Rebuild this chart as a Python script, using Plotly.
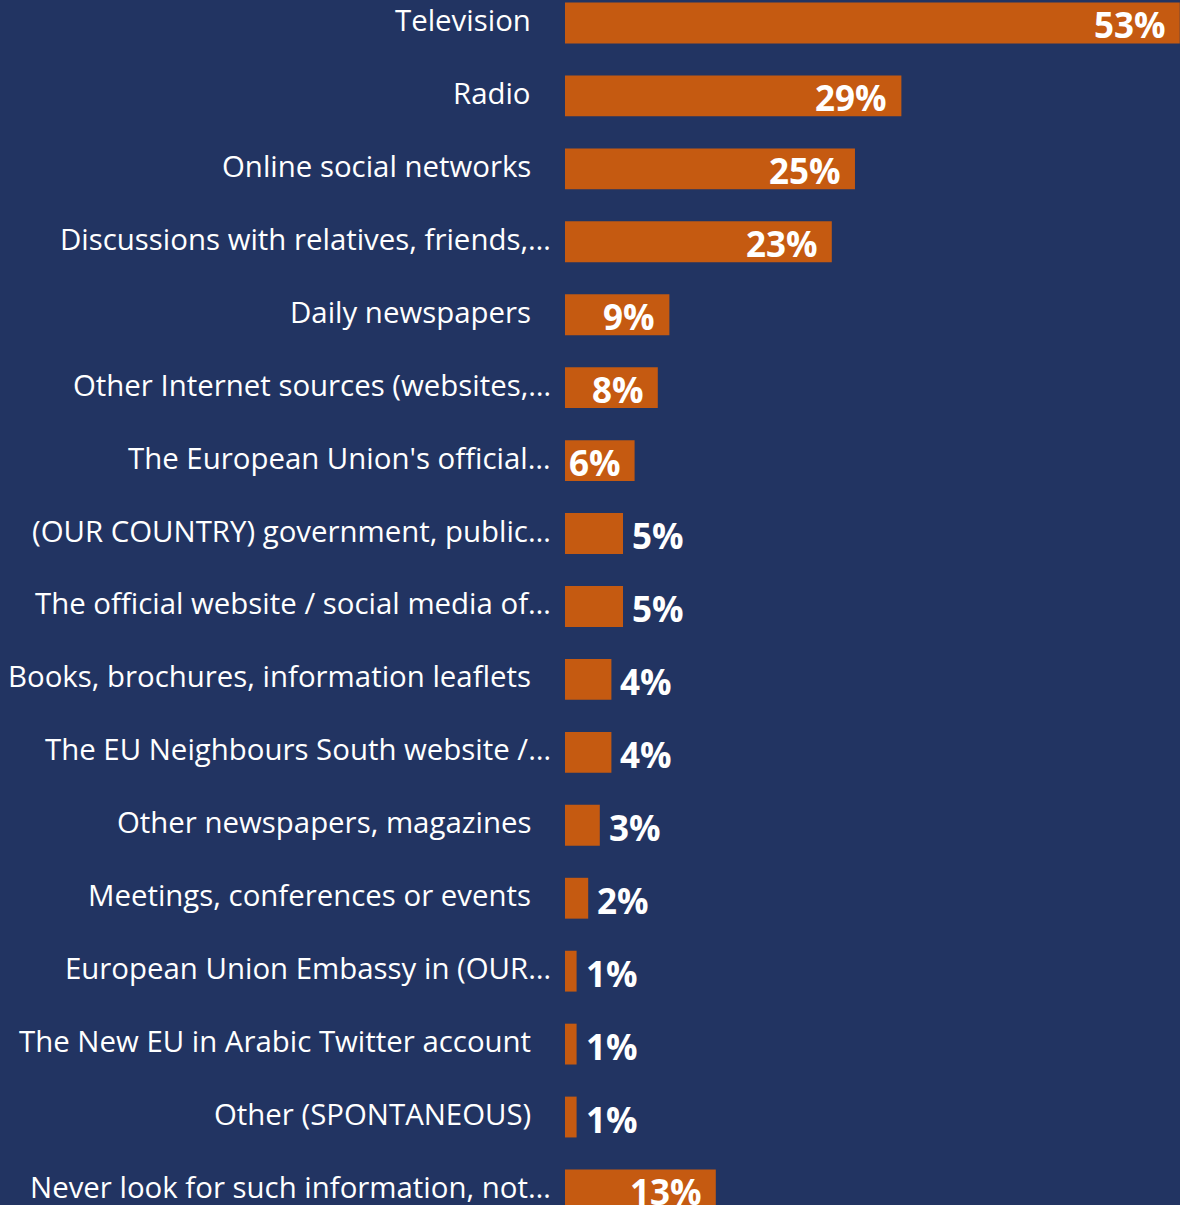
import plotly.graph_objects as go

categories = [
    "Television",
    "Radio",
    "Online social networks",
    "Discussions with relatives, friends,…",
    "Daily newspapers",
    "Other Internet sources (websites,…",
    "The European Union's official…",
    "(OUR COUNTRY) government, public…",
    "The official website / social media of…",
    "Books, brochures, information leaflets",
    "The EU Neighbours South website /…",
    "Other newspapers, magazines",
    "Meetings, conferences or events",
    "European Union Embassy in (OUR…",
    "The New EU in Arabic Twitter account",
    "Other (SPONTANEOUS)",
    "Never look for such information, not…",
]
values = [53, 29, 25, 23, 9, 8, 6, 5, 5, 4, 4, 3, 2, 1, 1, 1, 13]

BG = "#223462"
BAR = "#C55A11"
W, H = 1180, 1205
bar_left_px = 565

fig = go.Figure(go.Bar(
    x=values, y=categories, orientation="h",
    marker=dict(color=BAR, line=dict(width=0)),
    width=0.56, hoverinfo="skip",
))

annotations = []
for c, v in zip(categories, values):
    right_px = 553 if c.endswith("…") else 533
    annotations.append(dict(
        x=right_px / W, xref="paper", y=c, yref="y",
        text=c, showarrow=False, xanchor="right", yanchor="middle", yshift=3,
        font=dict(family="Open Sans", size=29.4, color="white"),
    ))
    inside = v >= 6
    annotations.append(dict(
        x=v, xref="x", y=c, yref="y",
        text=f"{v}%", showarrow=False,
        xanchor="right" if inside else "left",
        xshift=-12 if inside else 7, yshift=-2, yanchor="middle",
        font=dict(family="Open Sans", size=35, color="white", weight="bold"),
    ))

fig.update_layout(
    width=W, height=H,
    margin=dict(l=0, r=0, t=0, b=0),
    paper_bgcolor=BG, plot_bgcolor=BG,
    showlegend=False,
    xaxis=dict(domain=[bar_left_px / W, 1], range=[0, 53.02], visible=False, fixedrange=True),
    yaxis=dict(type="category", range=[16.206, -0.315], visible=False, fixedrange=True),
    annotations=annotations,
    bargap=0.44,
)

fig.write_html(
    "out.html",
    config={"displayModeBar": False},
    post_script="document.body.style.margin='0';document.body.style.overflow='hidden';document.body.style.background='%s';" % BG,
)
